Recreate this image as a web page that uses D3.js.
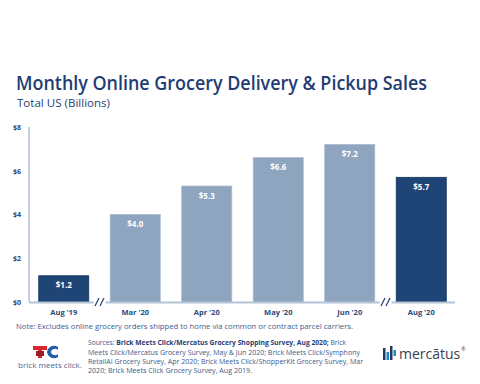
<!DOCTYPE html>
<html><head><meta charset="utf-8">
<script src="https://cdn.jsdelivr.net/npm/d3@7"></script>
<style>
body{margin:0;background:#fff;}
svg{display:block;}
text{font-family:"Open Sans",sans-serif;}
</style></head>
<body>
<svg id="c" width="480" height="384"></svg>
<script>
const categories = ["Aug '19","Mar '20","Apr '20","May '20","Jun '20","Aug '20"];
const values = [1.2, 4.0, 5.3, 6.6, 7.2, 5.7];
const highlight = [true, false, false, false, false, true];
const yTicks = [0, 2, 4, 6, 8];

const svg = d3.select("#c");
const dark = "#1f4476", light = "#8ea4bf", txt = "#1f3d73";

svg.append("text").attr("x",16).attr("y",90).attr("fill",txt)
  .attr("font-size",19.5).attr("font-weight",600).attr("textLength",411).attr("lengthAdjust","spacingAndGlyphs")
  .text("Monthly Online Grocery Delivery & Pickup Sales");
svg.append("text").attr("x",17).attr("y",107).attr("fill",txt)
  .attr("font-size",11.5).attr("textLength",93).attr("lengthAdjust","spacingAndGlyphs")
  .text("Total US (Billions)");

const x = d3.scaleBand().domain(categories).range([28,457]).paddingInner(0.3).paddingOuter(0.15);
const y = d3.scaleLinear().domain([0,8]).range([302,127]);

svg.append("line").attr("x1",29).attr("x2",29).attr("y1",y(8)).attr("y2",y(0))
  .attr("stroke","#b4c3d6").attr("stroke-width",1.5);
const yAxis = d3.axisLeft(y).tickValues(yTicks).tickSize(0).tickPadding(8).tickFormat(d=>"$"+d);
const yg = svg.append("g").attr("transform","translate(29,0)").call(yAxis);
yg.select(".domain").remove();
yg.selectAll("text").attr("fill","#2b4878").attr("font-size",7).attr("font-weight",700)
  .attr("font-family","'Open Sans',sans-serif");

svg.selectAll("rect.bar").data(categories).enter().append("rect")
  .attr("x",d=>x(d)).attr("width",x.bandwidth())
  .attr("y",(d,i)=>y(values[i])).attr("height",(d,i)=>y(0)-y(values[i]))
  .attr("fill",(d,i)=>highlight[i]?dark:light)
  .attr("stroke",(d,i)=>highlight[i]?"#17345e":"#a9bace").attr("stroke-width",0.8);

svg.selectAll("text.val").data(categories).enter().append("text")
  .attr("x",d=>x(d)+x.bandwidth()/2).attr("y",(d,i)=>y(values[i])+12.5)
  .attr("text-anchor","middle").attr("fill","#fff").attr("font-size",8).attr("font-weight",700)
  .text((d,i)=>"$"+values[i].toFixed(1));

svg.append("line").attr("x1",29).attr("x2",455).attr("y1",y(0)+0.5).attr("y2",y(0)+0.5)
  .attr("stroke","#b4c3d6").attr("stroke-width",2);

const breaks = [[categories[0],categories[1]],[categories[4],categories[5]]];
breaks.forEach(([a,b])=>{
  const cx = (x(a)+x.bandwidth()+x(b))/2;
  svg.append("rect").attr("x",cx-6).attr("y",y(0)-3).attr("width",12).attr("height",7).attr("fill","#fff");
  [-2.5,2.5].forEach(o=>{
    svg.append("line").attr("x1",cx+o-2).attr("y1",y(0)+4).attr("x2",cx+o+2).attr("y2",y(0)-4)
      .attr("stroke",dark).attr("stroke-width",1.3);
  });
});

const xAxis = d3.axisBottom(x).tickSize(0).tickPadding(8);
const xg = svg.append("g").attr("transform",`translate(0,${y(0)})`).call(xAxis);
xg.select(".domain").remove();
xg.selectAll("text").attr("fill","#2b4878").attr("font-size",7.5).attr("font-weight",700)
  .attr("font-family","'Open Sans',sans-serif");

svg.append("text").attr("x",16).attr("y",329).attr("fill","#3b5b8e").attr("font-size",7.6)
  .attr("textLength",337).attr("lengthAdjust","spacingAndGlyphs")
  .text("Note: Excludes online grocery orders shipped to home via common or contract parcel carriers.");

const srcFill = "#3b5b8e";
const s1 = svg.append("text").attr("x",88).attr("y",345).attr("fill",srcFill).attr("font-size",6.6)
  .attr("textLength",258).attr("lengthAdjust","spacingAndGlyphs");
s1.append("tspan").text("Sources: ");
s1.append("tspan").attr("font-weight",700).attr("fill","#1f3d73").text("Brick Meets Click/Mercatus Grocery Shopping Survey, Aug 2020;");
s1.append("tspan").text(" Brick");
const srcLines = [
  ["Meets Click/Mercatus Grocery Survey, May & Jun 2020; Brick Meets Click/Symphony", 272],
  ["RetailAI Grocery Survey, Apr 2020; Brick Meets Click/ShopperKit Grocery Survey, Mar", 275],
  ["2020; Brick Meets Click Grocery Survey, Aug 2019.", 164]
];
srcLines.forEach((l,i)=>{
  svg.append("text").attr("x",88).attr("y",354.5+i*9.3).attr("fill",srcFill).attr("font-size",6.6)
    .attr("textLength",l[1]).attr("lengthAdjust","spacingAndGlyphs").text(l[0]);
});

const lg = svg.append("g");
lg.append("path").attr("d","M33,346 L47,346 L47,350 L42,350 L42,358 L38,358 L38,350 L33,350 Z").attr("fill","#d7262e");
lg.append("path").attr("d","M36,351 L44,351 L44,356 L36,356 Z").attr("fill","#9b1d2a");
lg.append("path").attr("d","M58,347 A7,6 0 1,0 58,357 L58,354 A4,3 0 1,1 58,350 Z").attr("fill","#1f5fa8");
lg.append("text").attr("x",50).attr("y",368).attr("text-anchor","middle").attr("fill","#4a6a96")
  .attr("font-size",6.2).attr("textLength",64).attr("lengthAdjust","spacingAndGlyphs").text("brick meets click.");

const mg = svg.append("g");
[[383,348,2.5,12,"#243a5e"],[386.5,352,2.5,8,"#1e88c8"],[390,346,2.5,14,"#243a5e"],[393.5,350,2.5,6,"#1e88c8"]]
  .forEach(r=>mg.append("rect").attr("x",r[0]).attr("y",r[1]).attr("width",r[2]).attr("height",r[3]).attr("fill",r[4]));
const mt = mg.append("text").attr("x",399).attr("y",359).attr("fill","#3a3f4c").attr("font-size",14);
mt.append("tspan").text("mercātus");
mt.append("tspan").attr("font-size",5).attr("dy",-8).attr("dx",1).text("®");
</script>
</body></html>
